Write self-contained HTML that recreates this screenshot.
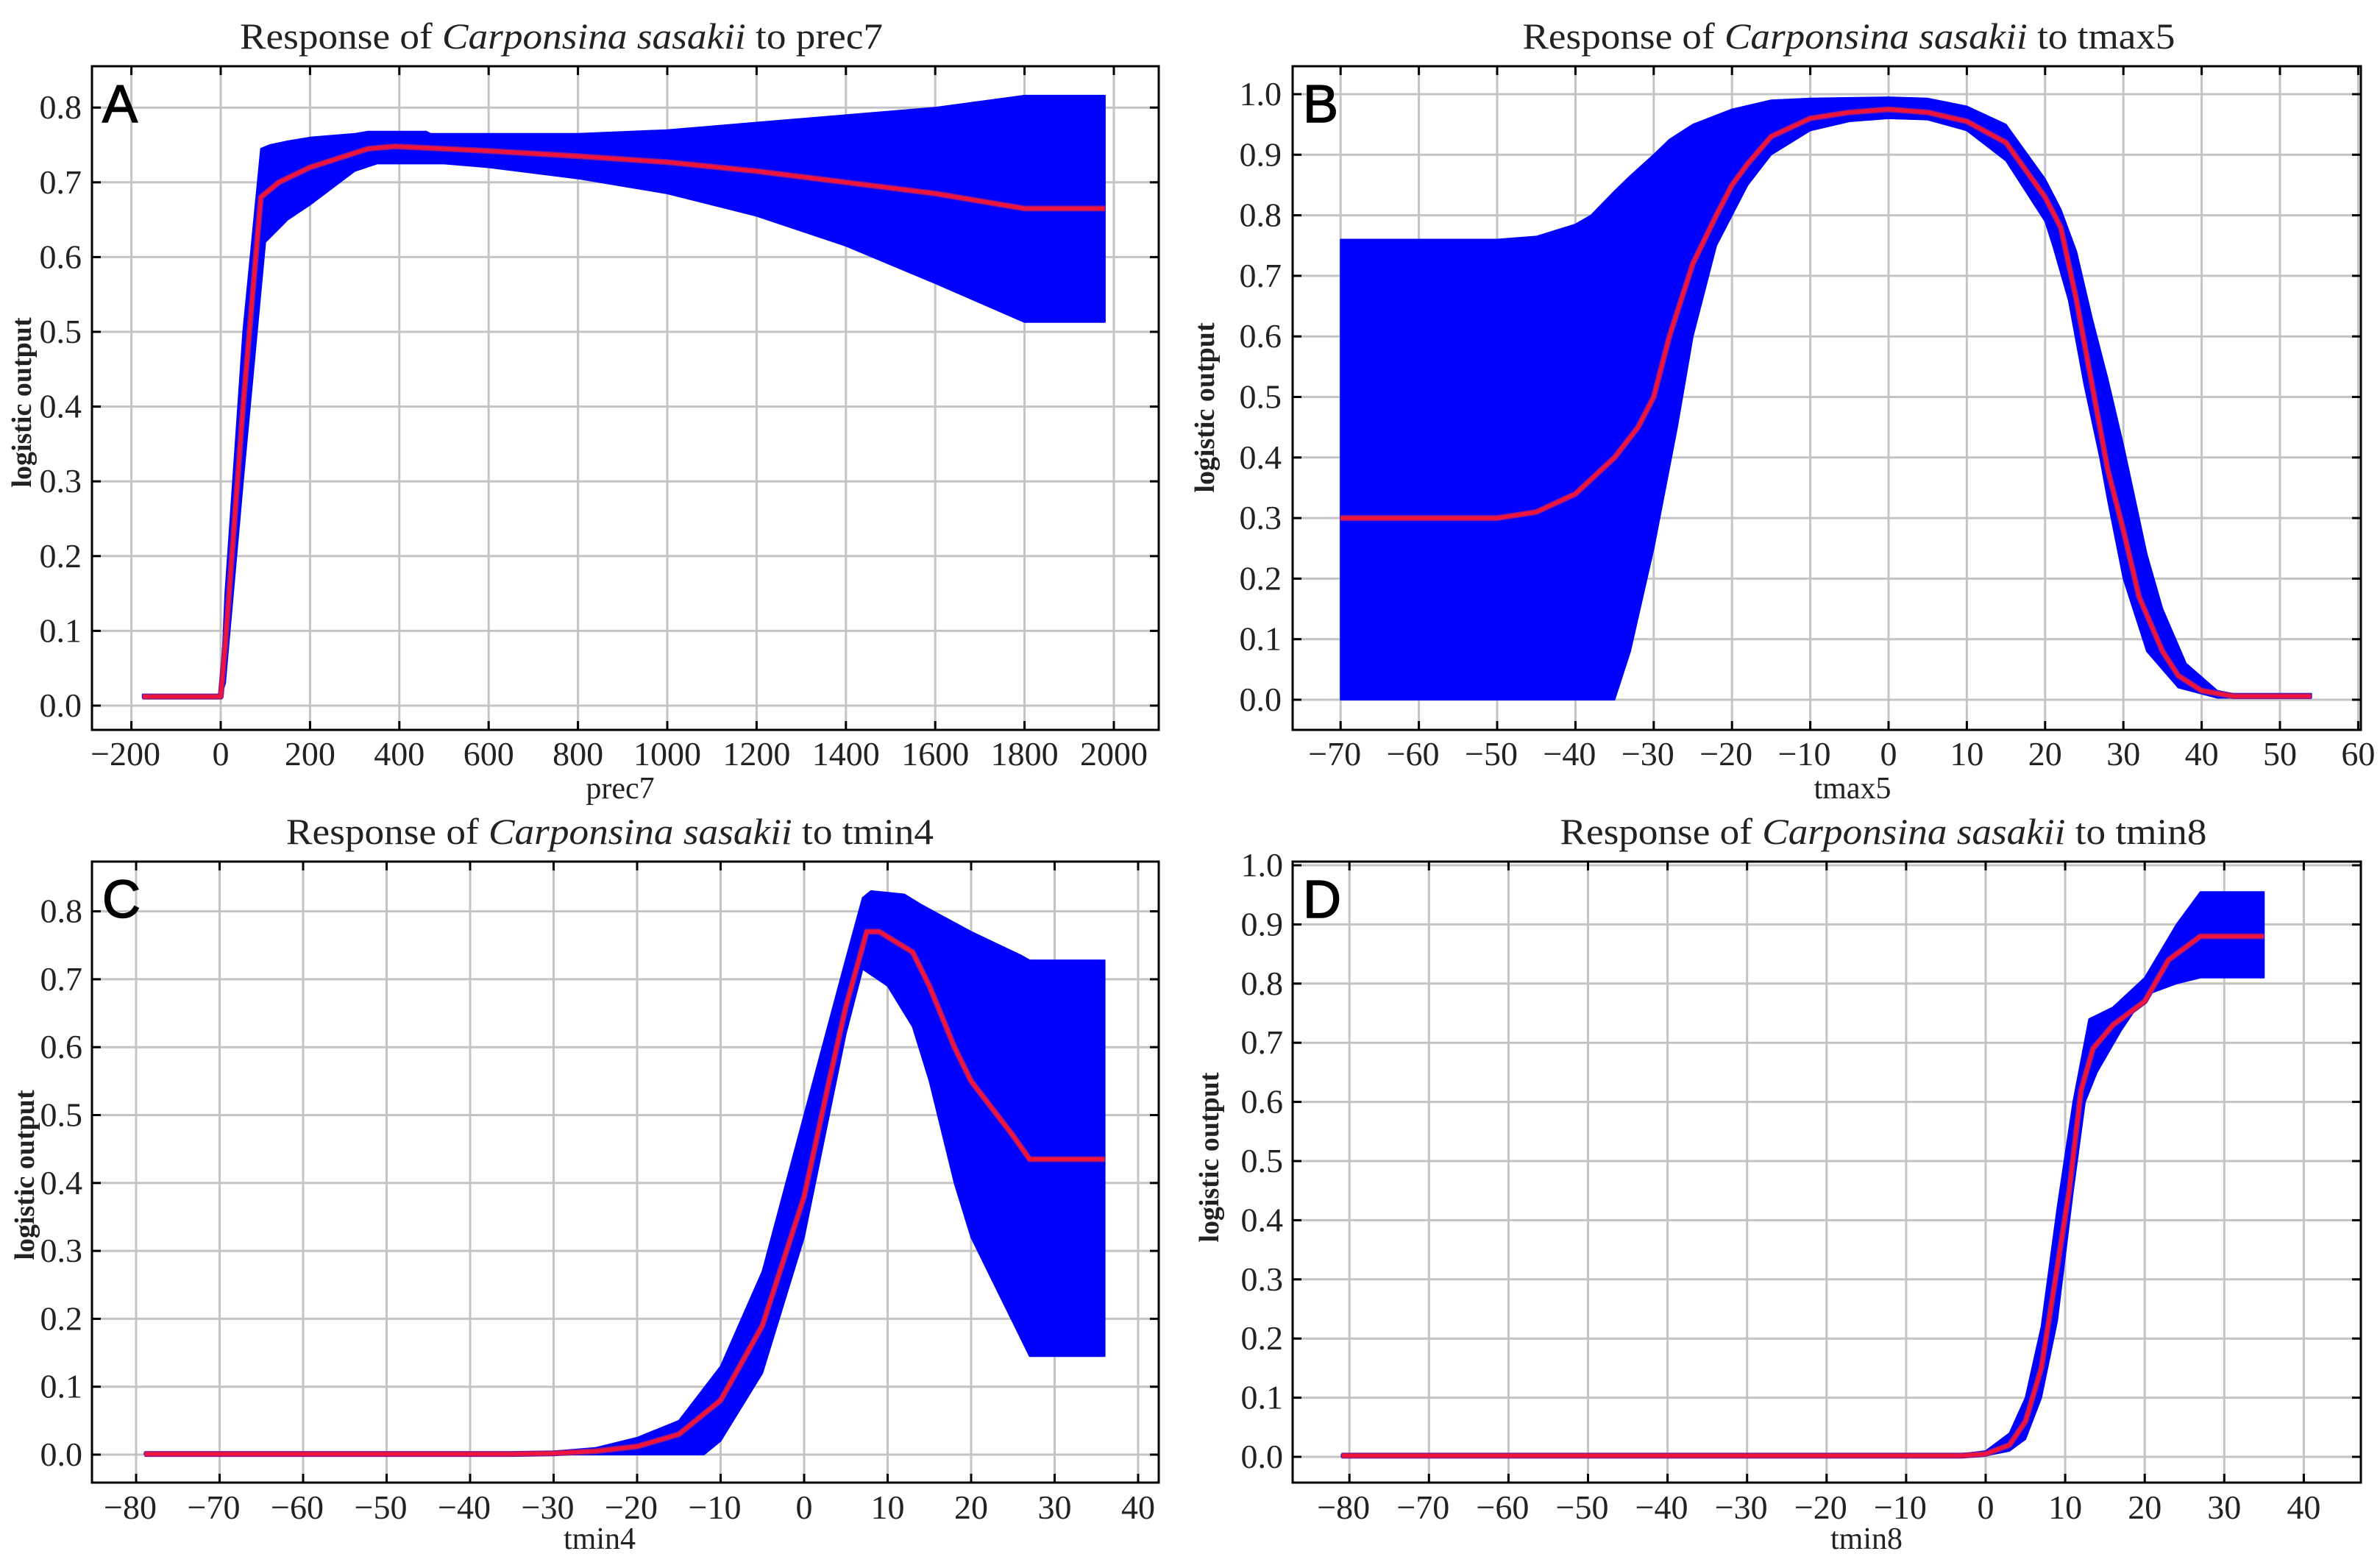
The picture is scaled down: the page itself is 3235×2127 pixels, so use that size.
<!DOCTYPE html>
<html><head><meta charset="utf-8"><style>
html,body{margin:0;padding:0;background:#fff;}
svg{display:block;}
text{font-family:"Liberation Serif",serif;fill:#222;}
text.sans{font-family:"Liberation Sans",sans-serif;fill:#000;}
</style></head><body>
<svg id="fig" width="3235" height="2127" viewBox="0 0 3235 2127" xmlns="http://www.w3.org/2000/svg">
<rect width="3235" height="2127" fill="#fff"/>
<text x="763" y="66" font-size="50" text-anchor="middle" textLength="874" lengthAdjust="spacingAndGlyphs">Response of <tspan font-style="italic">Carponsina sasakii</tspan> to prec7</text>
<text x="2513" y="66" font-size="50" text-anchor="middle" textLength="887" lengthAdjust="spacingAndGlyphs">Response of <tspan font-style="italic">Carponsina sasakii</tspan> to tmax5</text>
<text x="829" y="1147" font-size="50" text-anchor="middle" textLength="880" lengthAdjust="spacingAndGlyphs">Response of <tspan font-style="italic">Carponsina sasakii</tspan> to tmin4</text>
<text x="2560" y="1147" font-size="50" text-anchor="middle" textLength="879" lengthAdjust="spacingAndGlyphs">Response of <tspan font-style="italic">Carponsina sasakii</tspan> to tmin8</text>
</svg>
<script>
// Panel A: prec7
const aMidX=[-175,0,10,50,90,130,200,330,390,500,600,800,1000,1200,1400,1600,1800,1980];
const aMidY=[0.012,0.012,0.08,0.4,0.68,0.70,0.72,0.745,0.748,0.745,0.742,0.735,0.727,0.715,0.70,0.685,0.665,0.665];
const aHiX=[-175,0,10,50,90,110,150,200,300,330,460,470,800,1000,1200,1400,1600,1800,1980];
const aHiY=[0.015,0.015,0.15,0.5,0.745,0.75,0.755,0.76,0.765,0.768,0.768,0.765,0.765,0.77,0.78,0.79,0.80,0.816,0.816];
const aLoX=[-175,0,10,50,100,150,200,300,350,500,600,800,1000,1200,1400,1600,1800,1980];
const aLoY=[0.01,0.01,0.03,0.3,0.62,0.65,0.67,0.715,0.725,0.725,0.72,0.705,0.685,0.655,0.615,0.565,0.513,0.513];
const aXTicks=[-200,0,200,400,600,800,1000,1200,1400,1600,1800,2000];
const aYTicks=[0,0.1,0.2,0.3,0.4,0.5,0.6,0.7,0.8];
// Panel B: tmax5
const bMidX=[-70,-50,-45,-40,-35,-32,-30,-28,-25,-22,-20,-18,-15,-10,-5,0,5,10,15,20,22,24,26,28,30,32,35,37,40,44,54];
const bMidY=[0.30,0.30,0.31,0.34,0.40,0.45,0.5,0.6,0.72,0.80,0.85,0.885,0.93,0.96,0.97,0.975,0.97,0.955,0.92,0.83,0.78,0.66,0.52,0.38,0.28,0.17,0.08,0.04,0.015,0.006,0.006];
const bHiX=[-70,-50,-45,-40,-38,-35,-33,-30,-28,-25,-20,-15,-10,0,5,10,15,20,22,24,26,28,30,33,35,38,42,44,54];
const bHiY=[0.76,0.76,0.765,0.785,0.80,0.84,0.865,0.90,0.925,0.95,0.975,0.99,0.993,0.995,0.993,0.98,0.95,0.86,0.81,0.74,0.63,0.53,0.42,0.24,0.15,0.06,0.015,0.01,0.01];
const bLoX=[-70,-35,-33,-30,-27,-25,-22,-18,-15,-10,-5,0,5,10,15,20,21,23,25,27,28,30,33,37,42,54];
const bLoY=[0,0,0.08,0.25,0.45,0.6,0.75,0.85,0.9,0.94,0.955,0.96,0.958,0.94,0.89,0.79,0.75,0.66,0.52,0.4,0.33,0.2,0.08,0.02,0.003,0.003];
const bXTicks=[-70,-60,-50,-40,-30,-20,-10,0,10,20,30,40,50,60];
const bYTicks=[0,0.1,0.2,0.3,0.4,0.5,0.6,0.7,0.8,0.9,1.0];
// Panel C: tmin4
const cMidX=[-79,-35,-30,-25,-20,-15,-10,-5,0,3,5,7.5,9,13,15,18,20,25,27,36];
const cMidY=[0.001,0.001,0.002,0.005,0.012,0.03,0.08,0.19,0.38,0.55,0.66,0.77,0.77,0.74,0.69,0.6,0.55,0.47,0.435,0.435];
const cHiX=[-79,-35,-30,-25,-20,-15,-10,-5,0,5,7,8,12,14,20,26,27,36];
const cHiY=[0.003,0.003,0.005,0.01,0.025,0.05,0.13,0.27,0.5,0.73,0.82,0.83,0.825,0.81,0.77,0.735,0.728,0.728];
const cLoX=[-79,-12,-10,-5,0,3,5,7,10,13,15,18,20,24,27,36];
const cLoY=[0,0,0.02,0.12,0.32,0.5,0.62,0.715,0.69,0.63,0.55,0.4,0.32,0.22,0.145,0.145];
const cXTicks=[-80,-70,-60,-50,-40,-30,-20,-10,0,10,20,30,40];
const cYTicks=[0,0.1,0.2,0.3,0.4,0.5,0.6,0.7,0.8];
// Panel D: tmin8
const dMidX=[-81,-3,0,3,5,7,9,10.5,12,13.5,16,20,23,27,35];
const dMidY=[0.002,0.002,0.005,0.02,0.06,0.15,0.32,0.45,0.62,0.69,0.73,0.77,0.84,0.88,0.88];
const dHiX=[-81,-3,0,3,5,7,9,11,13,16,20,24,27,35];
const dHiY=[0.004,0.005,0.01,0.04,0.1,0.22,0.42,0.6,0.74,0.76,0.81,0.9,0.955,0.955];
const dLoX=[-81,0,3,5,7,9,11,12.5,14,17,20,24,27,35];
const dLoY=[0,0.002,0.01,0.03,0.1,0.23,0.45,0.6,0.65,0.72,0.78,0.8,0.81,0.81];
const dXTicks=[-80,-70,-60,-50,-40,-30,-20,-10,0,10,20,30,40];
const dYTicks=[0,0.1,0.2,0.3,0.4,0.5,0.6,0.7,0.8,0.9,1.0];

const NS='http://www.w3.org/2000/svg';
const svg=document.getElementById('fig');
function mk(tag,attrs,parent){const e=document.createElementNS(NS,tag);for(const k in attrs)e.setAttribute(k,attrs[k]);(parent||svg).appendChild(e);return e;}
function fmtY(v){return v.toFixed(1);}
function fmtX(v){return v<0?'\u2212'+Math.abs(v):String(v);}

function panel(p){
  const g=mk('g',{});
  
  
  const X=v=>p.x0+(v-p.xv0)*p.xs;
  const Y=v=>p.y0-v*p.ys;
  p.xt.forEach(t=>{const l=mk('line',{x1:X(t),x2:X(t),y1:p.top,y2:p.bot,stroke:'#c4c4c4','stroke-width':3},g);
    });
  p.yt.forEach(t=>{const l=mk('line',{x1:p.left,x2:p.right,y1:Y(t),y2:Y(t),stroke:'#c4c4c4','stroke-width':3},g);
    });
  let d='';
  p.hx.forEach((x,i)=>{d+=(i?'L':'M')+X(x).toFixed(1)+','+Y(p.hy[i]).toFixed(1);});
  for(let i=p.lx.length-1;i>=0;i--){d+='L'+X(p.lx[i]).toFixed(1)+','+Y(p.ly[i]).toFixed(1);}
  d+='Z';
  const band=mk('path',{d:d,fill:'#0000ff',stroke:'#0000ff','stroke-width':2,'stroke-linejoin':'round'},g);
  
  
  const pts=p.mx.map((x,i)=>X(x).toFixed(1)+','+Y(p.my[i]).toFixed(1)).join(' ');
  const ml0=mk('polyline',{points:pts,fill:'none',stroke:'#8a1a8a','stroke-width':8,'stroke-linejoin':'round'},g);
  
  
  const ml=mk('polyline',{points:pts,fill:'none',stroke:'#f0143c','stroke-width':5,'stroke-linejoin':'round'},g);
  
  
  const fr=mk('rect',{x:p.left,y:p.top,width:p.right-p.left,height:p.bot-p.top,fill:'none',stroke:'#000','stroke-width':3},g);
  
  
  p.xt.forEach(t=>{
    mk('line',{x1:X(t),x2:X(t),y1:p.bot,y2:p.bot-12,stroke:'#000','stroke-width':3},g);
    mk('line',{x1:X(t),x2:X(t),y1:p.top,y2:p.top+12,stroke:'#000','stroke-width':3},g);
    const tx=mk('text',{x:X(t)-(t<0?8:0),y:p.xly,'font-size':46,'text-anchor':'middle'},g);
    tx.textContent=fmtX(t);
    
    
  });
  p.yt.forEach(t=>{
    mk('line',{x1:p.left,x2:p.left+12,y1:Y(t),y2:Y(t),stroke:'#000','stroke-width':3},g);
    mk('line',{x1:p.right,x2:p.right-12,y1:Y(t),y2:Y(t),stroke:'#000','stroke-width':3},g);
    const ty=mk('text',{x:p.ylx,y:Y(t)+15,'font-size':46,'text-anchor':'end'},g);
    ty.textContent=fmtY(t);
    
    
  });
  const xl=mk('text',{x:p.xlabx,y:p.xlaby,'font-size':42,'text-anchor':'middle'},g);
  xl.textContent=p.xlabel;
  
  
  const yl=mk('text',{x:0,y:0,'font-size':38,'font-weight':'bold','text-anchor':'middle',transform:'translate('+p.ylabx+','+p.ylaby+') rotate(-90)'},g);
  yl.textContent='logistic output';
  
  
  const le=mk('text',{x:p.left+14,y:p.top+76,'font-size':72,'class':'sans',stroke:'#000','stroke-width':1.5},g);
  le.textContent=p.id.toUpperCase();
  
  
}

panel({id:'a',left:125,right:1575,top:90,bot:992,x0:300,xv0:0,xs:121.4/200,y0:959,ys:1016,
  xt:aXTicks,yt:aYTicks,hx:aHiX,hy:aHiY,lx:aLoX,ly:aLoY,mx:aMidX,my:aMidY,
  xly:1040,ylx:111,xlabel:'prec7',xlabx:843,xlaby:1085,ylabx:42,ylaby:547});
panel({id:'b',left:1757,right:3209,top:90,bot:992,x0:2567,xv0:0,xs:10.64,y0:951,ys:823,
  xt:bXTicks,yt:bYTicks,hx:bHiX,hy:bHiY,lx:bLoX,ly:bLoY,mx:bMidX,my:bMidY,
  xly:1040,ylx:1742,xlabel:'tmax5',xlabx:2518,xlaby:1085,ylabx:1650,ylaby:554});
panel({id:'c',left:125,right:1575,top:1171,bot:2015,x0:1093,xv0:0,xs:11.35,y0:1977,ys:923,
  xt:cXTicks,yt:cYTicks,hx:cHiX,hy:cHiY,lx:cLoX,ly:cLoY,mx:cMidX,my:cMidY,
  xly:2064,ylx:112,xlabel:'tmin4',xlabx:815,xlaby:2105,ylabx:46,ylaby:1597});
panel({id:'d',left:1757,right:3209,top:1171,bot:2015,x0:2699,xv0:0,xs:10.81,y0:1980,ys:804,
  xt:dXTicks,yt:dYTicks,hx:dHiX,hy:dHiY,lx:dLoX,ly:dLoY,mx:dMidX,my:dMidY,
  xly:2064,ylx:1744,xlabel:'tmin8',xlabx:2537,xlaby:2105,ylabx:1656,ylaby:1573});
</script>
</body></html>
